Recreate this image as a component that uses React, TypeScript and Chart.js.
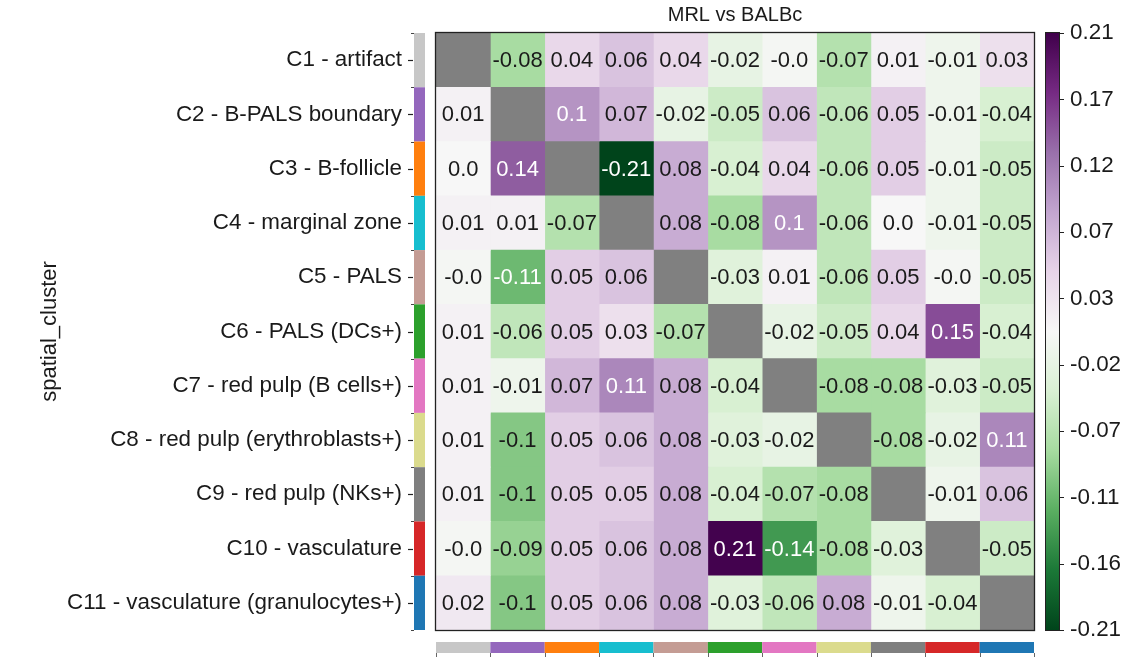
import React, { useEffect, useRef } from 'react';
import { Chart, registerables } from 'chart.js';

Chart.register(...registerables);

const FONT = '"Liberation Sans", Arial, sans-serif';

const TITLE = 'MRL vs BALBc';
const Y_TITLE = 'spatial_cluster';

const ROW_NAMES = [
  'C1 - artifact',
  'C2 - B-PALS boundary',
  'C3 - B-follicle',
  'C4 - marginal zone',
  'C5 - PALS',
  'C6 - PALS (DCs+)',
  'C7 - red pulp (B cells+)',
  'C8 - red pulp (erythroblasts+)',
  'C9 - red pulp (NKs+)',
  'C10 - vasculature',
  'C11 - vasculature (granulocytes+)',
];

const CLUSTER_COLORS = [
  '#c7c7c7', '#9467bd', '#ff7f0e', '#17becf', '#c49c94', '#2ca02c',
  '#e377c2', '#dbdb8d', '#7f7f7f', '#d62728', '#1f77b4',
];

// rows = spatial_cluster (C1..C11), columns = neighbour cluster (C1..C11)
const ROW_C1 = [null, -0.08, 0.04, 0.06, 0.04, -0.02, -0.002, -0.07, 0.01, -0.01, 0.03];
const ROW_C2 = [0.01, null, 0.1, 0.07, -0.02, -0.05, 0.06, -0.06, 0.05, -0.01, -0.04];
const ROW_C3 = [0.002, 0.14, null, -0.21, 0.08, -0.04, 0.04, -0.06, 0.05, -0.01, -0.05];
const ROW_C4 = [0.01, 0.01, -0.07, null, 0.08, -0.08, 0.1, -0.06, 0.002, -0.01, -0.05];
const ROW_C5 = [-0.002, -0.113, 0.05, 0.06, null, -0.03, 0.01, -0.06, 0.05, -0.002, -0.05];
const ROW_C6 = [0.01, -0.06, 0.05, 0.03, -0.07, null, -0.02, -0.05, 0.04, 0.15, -0.04];
const ROW_C7 = [0.01, -0.01, 0.07, 0.11, 0.08, -0.04, null, -0.08, -0.08, -0.03, -0.05];
const ROW_C8 = [0.01, -0.1, 0.05, 0.06, 0.08, -0.03, -0.02, null, -0.08, -0.02, 0.11];
const ROW_C9 = [0.01, -0.1, 0.05, 0.05, 0.08, -0.04, -0.07, -0.08, null, -0.01, 0.06];
const ROW_C10 = [-0.002, -0.09, 0.05, 0.06, 0.08, 0.21, -0.14, -0.08, -0.03, null, -0.05];
const ROW_C11 = [0.02, -0.1, 0.05, 0.06, 0.08, -0.03, -0.06, 0.08, -0.01, -0.04, null];

const MATRIX: (number | null)[][] = [
  ROW_C1, ROW_C2, ROW_C3, ROW_C4, ROW_C5, ROW_C6, ROW_C7, ROW_C8, ROW_C9, ROW_C10, ROW_C11,
];

const VMIN = -0.2075;
const VMAX = 0.2125;
const CB_TICKS = [0.2125, 0.1658, 0.1192, 0.0725, 0.0258, -0.0208, -0.0675, -0.1142, -0.1608, -0.2075];
const CB_LABELS = ['0.21', '0.17', '0.12', '0.07', '0.03', '-0.02', '-0.07', '-0.11', '-0.16', '-0.21'];

// matplotlib PRGn anchors (purple -> white -> green)
const PRGN: number[][] = [
  [64, 0, 75], [118, 42, 131], [153, 112, 171], [194, 165, 207], [231, 212, 232],
  [247, 247, 247], [217, 240, 211], [166, 219, 160], [90, 174, 97], [27, 120, 55], [0, 68, 27],
];

const DIAG_COLOR = '#808080';
const TEXT_DARK = '#1a1a1a';

function cmapRGB(v: number): number[] {
  let t = (v - VMIN) / (VMAX - VMIN);
  t = Math.max(0, Math.min(1, t));
  const s = (1 - t) * (PRGN.length - 1); // reversed: high -> purple
  const i = Math.min(PRGN.length - 2, Math.floor(s));
  const f = s - i;
  const a = PRGN[i];
  const b = PRGN[i + 1];
  return [0, 1, 2].map((k) => Math.round(a[k] + (b[k] - a[k]) * f));
}

function rgbStr(c: number[]) {
  return `rgb(${c[0]},${c[1]},${c[2]})`;
}

function luminance(c: number[]) {
  const lin = c.map((x) => {
    const u = x / 255;
    return u <= 0.03928 ? u / 12.92 : Math.pow((u + 0.055) / 1.055, 2.4);
  });
  return 0.2126 * lin[0] + 0.7152 * lin[1] + 0.0722 * lin[2];
}

function fmt(v: number) {
  const r = Math.round(Math.abs(v) * 100) / 100;
  let s = r.toString();
  if (!s.includes('.')) s += '.0';
  return (v < 0 ? '-' : '') + s;
}

function zeroPad(s: any) {
  s.paddingTop = 0;
  s.paddingBottom = 0;
  s.paddingLeft = 0;
  s.paddingRight = 0;
}

const decorPlugin = {
  id: 'heatDecor',
  afterDatasetsDraw(chart: any) {
    const ctx = chart.ctx;
    ctx.save();
    ctx.font = `22px ${FONT}`;
    ctx.textAlign = 'center';
    ctx.textBaseline = 'middle';
    chart.data.datasets.forEach((_ds: any, j: number) => {
      const meta = chart.getDatasetMeta(j);
      meta.data.forEach((el: any, i: number) => {
        const v = MATRIX[i][j];
        if (v === null) return;
        const p = el.getCenterPoint();
        ctx.fillStyle = luminance(cmapRGB(v)) < 0.408 ? '#ffffff' : TEXT_DARK;
        ctx.fillText(fmt(v), p.x, p.y + 1);
      });
    });
    ctx.restore();
  },
  afterDraw(chart: any) {
    const ctx = chart.ctx;
    const area = chart.chartArea;
    const xs = chart.scales.x;
    const ys = chart.scales.y;
    const cb = chart.scales.cb;
    ctx.save();

    // heatmap frame
    ctx.strokeStyle = '#222';
    ctx.lineWidth = 1.3;
    ctx.strokeRect(area.left - 0.5, area.top - 0.5, area.right - area.left + 1, area.bottom - area.top + 1);

    // left cluster colour strip + ticks
    const n = ROW_NAMES.length;
    const stripR = area.left - 11;
    const stripL = area.left - 22;
    for (let i = 0; i < n; i++) {
      const y0 = ys.getPixelForValue(i - 0.5);
      const y1 = ys.getPixelForValue(i + 0.5);
      ctx.fillStyle = CLUSTER_COLORS[i];
      ctx.fillRect(stripL, y0, stripR - stripL, y1 - y0);
      const yc = ys.getPixelForValue(i);
      ctx.strokeStyle = '#222';
      ctx.lineWidth = 1.2;
      ctx.beginPath();
      ctx.moveTo(stripL - 6, Math.round(yc) + 0.5);
      ctx.lineTo(stripL - 1, Math.round(yc) + 0.5);
      ctx.stroke();
    }
    ctx.strokeStyle = '#444';
    ctx.lineWidth = 1;
    for (let i = 0; i <= n; i++) {
      const yb = Math.round(ys.getPixelForValue(i - 0.5)) + 0.5;
      ctx.beginPath();
      ctx.moveTo(stripL - 3, yb);
      ctx.lineTo(stripL, yb);
      ctx.stroke();
    }

    // bottom cluster colour strip + ticks
    const m = MATRIX[0].length;
    const sy = area.bottom + 12;
    for (let j = 0; j < m; j++) {
      const x0 = xs.getPixelForValue(j);
      const x1 = xs.getPixelForValue(j + 1);
      ctx.fillStyle = CLUSTER_COLORS[j];
      ctx.fillRect(x0, sy, x1 - x0, 11);
    }
    ctx.strokeStyle = '#666';
    ctx.lineWidth = 1;
    for (let j = 0; j <= m; j++) {
      const xb = Math.round(xs.getPixelForValue(j)) + 0.5;
      ctx.beginPath();
      ctx.moveTo(xb, sy + 11);
      ctx.lineTo(xb, sy + 15);
      ctx.stroke();
    }

    // colorbar (on the cb scale)
    const cx = area.right + 12;
    const cw = 13;
    const yTop = cb.getPixelForValue(VMAX);
    const yBot = cb.getPixelForValue(VMIN);
    const grad = ctx.createLinearGradient(0, yTop, 0, yBot);
    PRGN.forEach((c, k) => grad.addColorStop(k / (PRGN.length - 1), rgbStr(c)));
    ctx.fillStyle = grad;
    ctx.fillRect(cx, yTop, cw, yBot - yTop);
    ctx.strokeStyle = '#222';
    ctx.lineWidth = 1;
    ctx.strokeRect(cx - 0.5, yTop - 0.5, cw + 1, yBot - yTop + 1);
    CB_TICKS.forEach((t) => {
      const ty = Math.round(cb.getPixelForValue(t)) + 0.5;
      ctx.beginPath();
      ctx.moveTo(cx + cw, ty);
      ctx.lineTo(cx + cw + 5, ty);
      ctx.stroke();
    });

    ctx.restore();
  },
};

export default function App() {
  const canvasRef = useRef<HTMLCanvasElement | null>(null);

  useEffect(() => {
    if (!canvasRef.current) return;
    Chart.defaults.font.family = FONT;
    const cols = MATRIX[0].length;
    const datasets = Array.from({ length: cols }, (_, j) => ({
      label: `col${j + 1}`,
      data: ROW_NAMES.map(() => [j, j + 1]),
      backgroundColor: (c: any) => {
        const v = MATRIX[c.dataIndex]?.[j];
        return v === null || v === undefined ? DIAG_COLOR : rgbStr(cmapRGB(v));
      },
      borderWidth: 0,
      grouped: false,
      barPercentage: 1,
      categoryPercentage: 1,
    }));

    const chart = new Chart(canvasRef.current, {
      type: 'bar',
      data: { labels: ROW_NAMES, datasets: datasets as any },
      plugins: [decorPlugin as any],
      options: {
        indexAxis: 'y',
        animation: false,
        responsive: true,
        maintainAspectRatio: false,
        layout: { padding: { left: 33, right: 0, top: 0, bottom: 33 } },
        plugins: {
          legend: { display: false },
          tooltip: { enabled: false },
          title: { display: false },
        },
        scales: {
          x: {
            type: 'linear',
            position: 'top',
            min: 0,
            max: cols,
            grid: { display: false, drawTicks: false },
            border: { display: false },
            ticks: { display: false },
            title: {
              display: true,
              text: TITLE,
              color: TEXT_DARK,
              font: { size: 20, family: FONT },
              padding: { top: 3, bottom: 0 },
            },
            afterFit: (s: any) => {
              s.height = 33;
              zeroPad(s);
            },
          },
          y: {
            type: 'category',
            position: 'left',
            offset: true,
            grid: { display: false, drawTicks: false },
            border: { display: false },
            ticks: {
              color: TEXT_DARK,
              font: { size: 22.4, family: FONT },
              padding: 34,
              autoSkip: false,
            },
            title: {
              display: true,
              text: Y_TITLE,
              color: TEXT_DARK,
              font: { size: 22, family: FONT },
              padding: { top: 4, bottom: 4 },
            },
            afterFit: (s: any) => {
              s.width = 436 - 33;
              zeroPad(s);
            },
          },
          cb: {
            type: 'linear',
            axis: 'y',
            position: 'right',
            offset: false,
            min: VMIN,
            max: VMAX,
            grid: { display: false, drawTicks: false, offset: false },
            border: { display: false },
            afterBuildTicks: (s: any) => {
              s.ticks = CB_TICKS.map((v) => ({ value: v }));
            },
            ticks: {
              color: TEXT_DARK,
              font: { size: 22.4, family: FONT },
              padding: 36,
              autoSkip: false,
              callback: (_v: any, idx: number) => CB_LABELS[idx],
            },
            afterFit: (s: any) => {
              s.width = 1141 - 1034;
              zeroPad(s);
            },
          },
        },
      } as any,
    });
    return () => chart.destroy();
  }, []);

  return (
    <div style={{ position: 'fixed', left: 0, top: 0, width: 1141, height: 663, background: '#fff' }}>
      <canvas ref={canvasRef} />
    </div>
  );
}
